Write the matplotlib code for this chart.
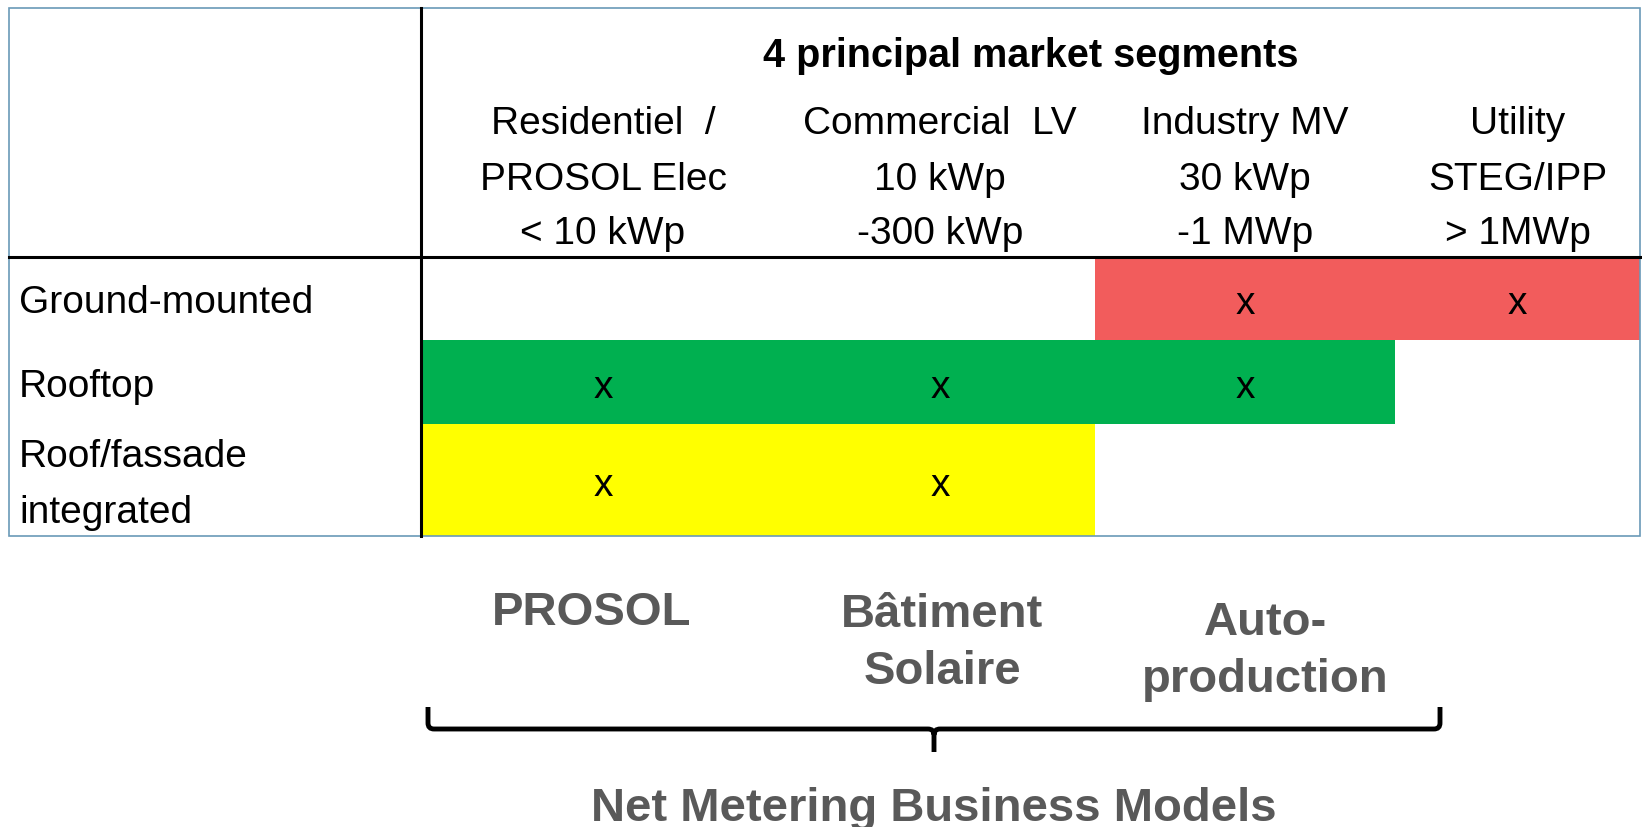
import matplotlib
matplotlib.use("Agg")
import matplotlib.pyplot as plt
from matplotlib.patches import Rectangle, PathPatch
from matplotlib.path import Path

plt.rcParams['font.family'] = ['Liberation Sans', 'DejaVu Sans']

# data
title = "4 principal market segments"
segments = [
    ["Residentiel  /", "PROSOL Elec", "< 10 kWp"],
    ["Commercial  LV", "10 kWp", "-300 kWp"],
    ["Industry MV", "30 kWp", "-1 MWp"],
    ["Utility", "STEG/IPP", "> 1MWp"],
]
mountings = [["Ground-mounted"], ["Rooftop"], ["Roof/fassade", "integrated"]]
applies = [
    [0, 0, 1, 1],
    [1, 1, 1, 0],
    [1, 1, 0, 0],
]
row_colors = ["#F25C5C", "#00B050", "#FFFF00"]
models = [["PROSOL"], ["Bâtiment", "Solaire"], ["Auto-", "production"]]
models_title = "Net Metering Business Models"

# layout (pixels)
W, H = 1642, 828
col_edges = [421, 785, 1095, 1395, 1640]
row_edges = [258, 341, 425, 537]
top, left = 9, 9
gray = "#595959"

fig = plt.figure(figsize=(W / 100, H / 100), dpi=100)
ax = fig.add_axes([0, 0, 1, 1])
ax.set_xlim(0, W)
ax.set_ylim(H, 0)
ax.axis("off")

# colored cells
for i, row in enumerate(applies):
    for j, v in enumerate(row):
        if v:
            ax.add_patch(Rectangle((col_edges[j], row_edges[i]),
                                   col_edges[j + 1] - col_edges[j],
                                   row_edges[i + 1] - row_edges[i],
                                   facecolor=row_colors[i], edgecolor="none", zorder=1))
            ax.text((col_edges[j] + col_edges[j + 1]) / 2,
                    (row_edges[i] + row_edges[i + 1]) / 2 + 5,
                    "x", fontsize=28, ha="center", va="center", zorder=3)

# table frame
ax.add_patch(Rectangle((left, top), col_edges[-1] - left, row_edges[-1] - top,
                       facecolor="none", edgecolor="#6A9AB8", lw=1.2, zorder=2))
ax.plot([col_edges[0], col_edges[0]], [top, row_edges[-1]], color="black", lw=2.2, zorder=4)
ax.plot([left, W], [row_edges[0], row_edges[0]], color="black", lw=2.2, zorder=4)

# header
ax.text(1031, 56, title, fontsize=28.5, fontweight="bold", ha="center", va="center")
line_y = [124, 180, 234]
for j, lines in enumerate(segments):
    cx = (col_edges[j] + col_edges[j + 1]) / 2
    for k, s in enumerate(lines):
        ax.text(cx, line_y[k], s, fontsize=28, ha="center", va="center")

# row labels
for i, lines in enumerate(mountings):
    cy = (row_edges[i] + row_edges[i + 1]) / 2 + 4
    n = len(lines)
    for k, s in enumerate(lines):
        ax.text(19, cy + (k - (n - 1) / 2) * 56, s, fontsize=28, ha="left", va="center")

# business models
model_x = [592, 942, 1265]
model_y = [613, 644, 652]
for m, lines in enumerate(models):
    n = len(lines)
    for k, s in enumerate(lines):
        ax.text(model_x[m], model_y[m] + (k - (n - 1) / 2) * 57, s, fontsize=34,
                fontweight="bold", color=gray, ha="center", va="center")

# curly brace
bx0, bx1, bxm = 428, 1440, 934
by0, by1, by2 = 708, 730, 753
r = 6
verts = [(bx0, by0), (bx0, by1 - r), (bx0, by1), (bx0 + r, by1),
         (bxm - r, by1), (bxm, by1), (bxm, by1 + r), (bxm, by2),
         (bxm, by1 + r), (bxm, by1), (bxm + r, by1),
         (bx1 - r, by1), (bx1, by1), (bx1, by1 - r), (bx1, by0)]
codes = [Path.MOVETO, Path.LINETO, Path.CURVE3, Path.CURVE3,
         Path.LINETO, Path.CURVE3, Path.CURVE3, Path.LINETO,
         Path.MOVETO, Path.CURVE3, Path.CURVE3,
         Path.LINETO, Path.CURVE3, Path.CURVE3, Path.LINETO]
ax.add_patch(PathPatch(Path(verts, codes), facecolor="none", edgecolor="black",
                       lw=3.5, capstyle="butt"))

ax.text(934, 809, models_title, fontsize=34, fontweight="bold", color=gray,
        ha="center", va="center")

fig.savefig("out.png", dpi=100)
